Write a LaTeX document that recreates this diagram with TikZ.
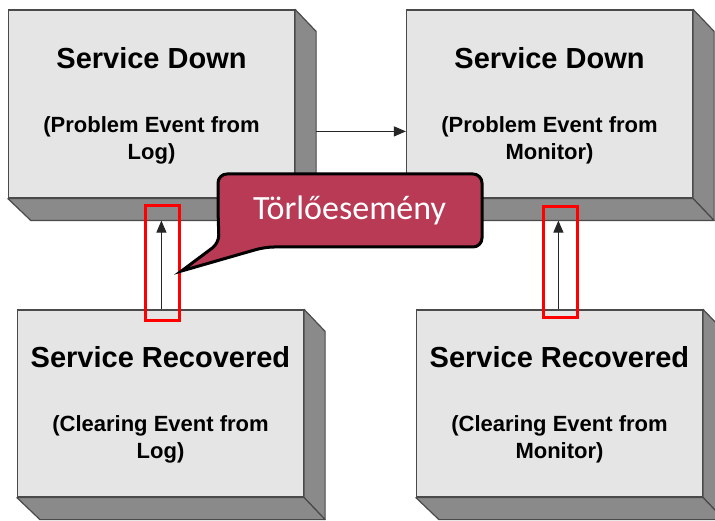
\documentclass[tikz,border=0pt]{standalone}
\usepackage{fontspec}
\setmainfont{Liberation Sans}
\newfontfamily\calibri{Carlito}
\usetikzlibrary{arrows.meta,calc}
\definecolor{front}{HTML}{E5E5E5}
\definecolor{side}{HTML}{8A8A8A}
\definecolor{edge}{HTML}{4A4A4A}
\definecolor{callred}{HTML}{B83A55}
\newcommand\sidesof[1]{%
  \draw[sidef] (#1.north east) -- ++(21,22) -- ($(#1.south east)+(21,22)$) -- (#1.south east) -- cycle;
  \draw[sidef] (#1.south west) -- ++(23,22) -- ($(#1.south east)+(21,22)$) -- (#1.south east) -- cycle;}
\begin{document}
\begin{tikzpicture}[x=1pt,y=-1pt,
  face/.style={draw=edge,fill=front,line width=1.2pt,minimum width=286pt,minimum height=188pt,inner sep=0pt},
  sidef/.style={draw=edge,fill=side,line width=1.2pt,line join=round},
  title/.style={anchor=base,font=\bfseries\fontsize{29}{29}\selectfont},
  sub/.style={anchor=base,align=center,font=\bfseries\fontsize{22}{27}\selectfont},
  arr/.style={draw=black!85,line width=1.1pt,-{Triangle[length=12pt,width=10pt]}},
  hl/.style={draw=red,line width=3pt,inner sep=0pt,fill=none},
  callout/.style={fill=callred,draw=black,line width=3pt}]
\path[use as bounding box,clip] (0,0) rectangle (715,521);
\fill[white] (0,0) rectangle (715,521);
% boxes
\node[face] (sd1) at (151.5,104) {};
\node[face] (sd2) at (549.5,104) {};
\node[face,minimum height=187pt] (sr1) at (160.5,403.5) {};
\node[face,minimum height=187pt] (sr2) at (559.5,403.5) {};
\sidesof{sd1}
\sidesof{sd2}
\sidesof{sr1}
\sidesof{sr2}
% texts
\node[title] (t1) at ($(sd1.north)+(0,59)$) {Service Down};
\node[sub] (s1) at ($(sd1.north)+(0,150)$) {(Problem Event from\\Log)};
\node[title] (t2) at ($(sd2.north)+(0,59)$) {Service Down};
\node[sub] (s2) at ($(sd2.north)+(0,150)$) {(Problem Event from\\Monitor)};
\node[title] (t3) at ($(sr1.north)+(0,58)$) {Service Recovered};
\node[sub] (s3) at ($(sr1.north)+(0,149)$) {(Clearing Event from\\Log)};
\node[title] (t4) at ($(sr2.north)+(0,58)$) {Service Recovered};
\node[sub] (s4) at ($(sr2.north)+(0,149)$) {(Clearing Event from\\Monitor)};
% arrows
\draw[arr] ($(sd1.north east)+(21,122)$) -- ($(sd2.north west)+(0,122)$);
\draw[arr] ($(sr1.north west)+(144.5,0)$) -- ($(sd1.south west)+(153.5,22)$);
\draw[arr] ($(sr2.north west)+(142.5,0)$) -- ($(sd2.south west)+(152.5,22)$);
% highlights
\node[hl,minimum width=34pt,minimum height=115pt] (h1) at (162,263.5) {};
\node[hl,minimum width=34pt,minimum height=111pt] (h2) at (560,262.5) {};
% callout
\draw[callout] (218,210) [rounded corners=9pt] -- (218,174) -- (482,174) -- (482,247) -- (265,247) [sharp corners] -- ($(h1.east)+(1,7.5)$) [rounded corners=8pt] -- (219,243) -- cycle;
\node[anchor=base,text=white,font=\calibri\fontsize{34}{34}\selectfont] (lbl) at (349.5,220) {Törlőesemény};
\end{tikzpicture}
\end{document}
